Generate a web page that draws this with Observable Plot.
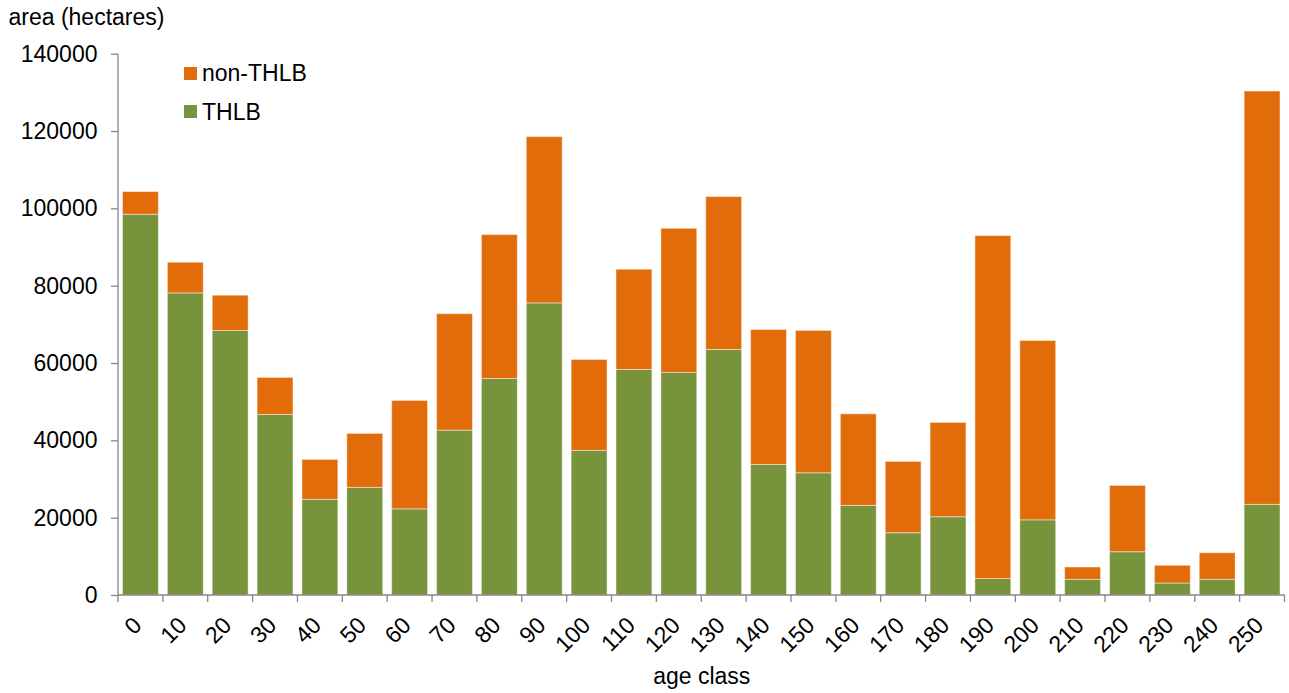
<!DOCTYPE html>
<html>
<head>
<meta charset="utf-8">
<script src="https://cdn.jsdelivr.net/npm/d3@7"></script>
<script src="https://cdn.jsdelivr.net/npm/@observablehq/plot@0.6"></script>
<style>
  html, body { margin: 0; padding: 0; overflow: hidden; background: #fff; font-family: "Liberation Sans", Arial, sans-serif; }
  #chart { position: relative; width: 1289px; height: 693px; overflow: hidden; }
  #chart svg { display: block; max-width: none; }
  .key { position: absolute; left: 184px; width: 13px; height: 13px; }
  .key-label { position: absolute; left: 202px; font-size: 23px; line-height: 26px; color: #000; }
</style>
</head>
<body>
<div id="chart"></div>
<script>
// Age classes (years) along the horizontal axis
const ageClasses = ["0","10","20","30","40","50","60","70","80","90","100","110","120",
                    "130","140","150","160","170","180","190","200","210","220","230","240","250"];

// Area in the timber harvesting land base, hectares
const thlb = [98480, 78130, 68420, 46700, 24740, 27840, 22280, 42650, 56010, 75550, 37400,
              58340, 57560, 63500, 33780, 31610, 23180, 16100, 20240, 4260, 19440, 4060,
              11190, 3100, 4060, 23440];

// Area outside the timber harvesting land base, hectares
const nonThlb = [5860, 7940, 9120, 9570, 10330, 13950, 28040, 30110, 37220, 43010, 23520,
                 25920, 37300, 39550, 34890, 36810, 23680, 18460, 24400, 88710, 46390, 3180,
                 17160, 4580, 6870, 106910];

const seriesNames = ["THLB", "non-THLB"];
const seriesColors = ["#77933C", "#E36C0A"];
const yTicks = [0, 20000, 40000, 60000, 80000, 100000, 120000, 140000];

const rows = ageClasses.flatMap((age, i) => [
  {age, series: "THLB", value: thlb[i]},
  {age, series: "non-THLB", value: nonThlb[i]}
]);

const W = 1289, H = 693;
const axisColor = "#868686";
const font = "'Liberation Sans', Arial, sans-serif";

// Axis lines plus category-boundary tick marks (Excel style)
function axisLines(index, scales, values, dims) {
  const x = scales.x, y = scales.y;
  const step = x(ageClasses[1]) - x(ageClasses[0]);
  const gap = step * 0.2;
  const bw = step - gap;
  const y0 = y(0);
  const yTop = y(yTicks[yTicks.length - 1]);
  const left = x(ageClasses[0]) - gap / 2;
  const right = x(ageClasses[ageClasses.length - 1]) + bw + gap / 2;
  const g = d3.create("svg:g").attr("stroke", axisColor).attr("stroke-width", 1.3).attr("fill", "none");
  g.append("line").attr("x1", left).attr("x2", left).attr("y1", yTop).attr("y2", y0);
  g.append("line").attr("x1", left).attr("x2", right).attr("y1", y0).attr("y2", y0);
  for (let i = 0; i <= ageClasses.length; i++) {
    const bx = left + i * step;
    g.append("line").attr("x1", bx).attr("x2", bx).attr("y1", y0).attr("y2", y0 + 7);
  }
  return g.node();
}

const chart = Plot.plot({
  width: W,
  height: H,
  marginLeft: 118,
  marginRight: 4.5,
  marginTop: 53.7,
  marginBottom: 98,
  style: {fontFamily: font, fontSize: "23px", color: "#000", background: "#fff"},
  x: {type: "band", domain: ageClasses, paddingInner: 0.2, paddingOuter: 0.1, round: false, axis: null, label: null},
  y: {domain: [0, 140000], axis: null, label: null},
  color: {domain: seriesNames, range: seriesColors},
  marks: [
    Plot.barY(rows, {x: "age", y: "value", fill: "series",
                     stroke: "#fff", strokeOpacity: 0.45, strokeWidth: 1}),
    axisLines,
    Plot.axisY({ticks: yTicks, tickSize: 7, tickPadding: 14, tickFormat: d3.format("d"),
                stroke: axisColor, strokeWidth: 1.3, fill: "#000", fontSize: 23, label: null}),
    Plot.text(ageClasses, {x: d => d, y: () => 0, text: d => d, rotate: -45,
                           textAnchor: "end", lineAnchor: "middle",
                           dx: -3, dy: 26, fontSize: 23, fill: "#000"}),
    Plot.text(["age class"], {frameAnchor: "bottom", dy: 81, lineAnchor: "middle",
                              fontSize: 23, fill: "#000"}),
    Plot.text(["area (hectares)"], {frameAnchor: "top-left", textAnchor: "start", lineAnchor: "middle",
                                    dx: -110, dy: -36.5, fontSize: 23, fill: "#000"})
  ]
});

const root = document.getElementById("chart");
root.appendChild(chart);

// Legend, top series first
const legendItems = [
  {name: "non-THLB", color: seriesColors[1], top: 66.7},
  {name: "THLB", color: seriesColors[0], top: 105.3}
];
for (const item of legendItems) {
  const sw = document.createElement("div");
  sw.className = "key";
  sw.style.top = item.top + "px";
  sw.style.background = item.color;
  root.appendChild(sw);
  const lab = document.createElement("div");
  lab.className = "key-label";
  lab.style.top = (item.top + 6.5 - 13) + "px";
  lab.textContent = item.name;
  root.appendChild(lab);
}
</script>
</body>
</html>
